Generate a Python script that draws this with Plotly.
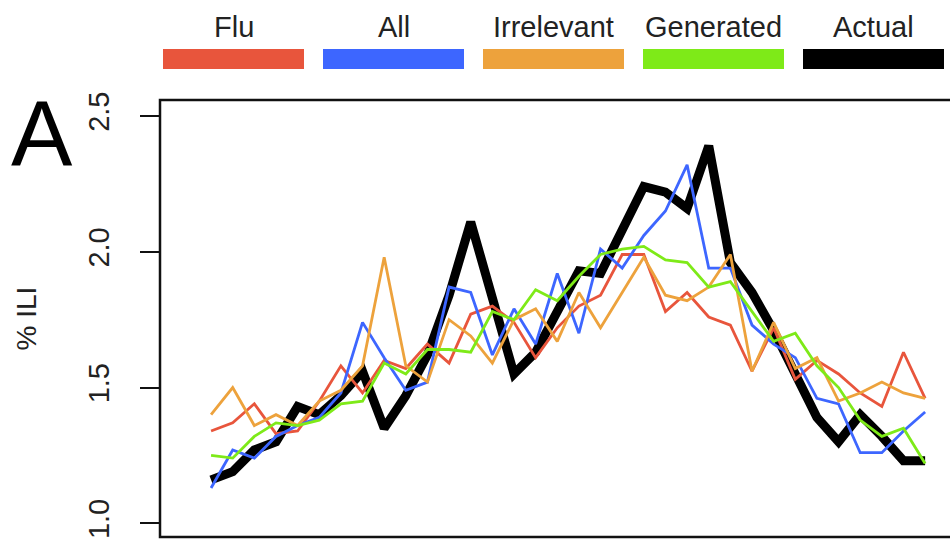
import plotly.graph_objects as go

# ---- data ----
weeks = list(range(1, 35))
actual = [1.16, 1.19, 1.27, 1.30, 1.43, 1.40, 1.47, 1.56, 1.35, 1.47,
          1.62, 1.84, 2.11, 1.82, 1.55, 1.63, 1.78, 1.93, 1.92, 2.08,
          2.24, 2.22, 2.16, 2.39, 1.96, 1.85, 1.71, 1.55, 1.39, 1.30,
          1.40, 1.32, 1.23, 1.23]
flu = [1.34, 1.37, 1.44, 1.33, 1.34, 1.45, 1.58, 1.48, 1.60, 1.57,
       1.66, 1.59, 1.77, 1.80, 1.74, 1.61, 1.72, 1.80, 1.84, 1.99,
       1.99, 1.78, 1.85, 1.76, 1.73, 1.56, 1.72, 1.53, 1.60, 1.55,
       1.48, 1.43, 1.63, 1.46]
all_terms = [1.13, 1.27, 1.24, 1.32, 1.36, 1.39, 1.48, 1.74, 1.61, 1.49,
             1.52, 1.87, 1.85, 1.62, 1.79, 1.66, 1.92, 1.70, 2.01, 1.94,
             2.06, 2.15, 2.32, 1.94, 1.94, 1.73, 1.66, 1.61, 1.46, 1.44,
             1.26, 1.26, 1.34, 1.41]
irrelevant = [1.40, 1.50, 1.36, 1.40, 1.36, 1.45, 1.49, 1.58, 1.98, 1.58,
              1.52, 1.75, 1.69, 1.59, 1.75, 1.79, 1.67, 1.85, 1.72, 1.85,
              1.98, 1.84, 1.82, 1.87, 1.99, 1.56, 1.74, 1.57, 1.61, 1.45,
              1.48, 1.52, 1.48, 1.46]
generated = [1.25, 1.24, 1.32, 1.37, 1.36, 1.38, 1.44, 1.45, 1.59, 1.55,
             1.64, 1.64, 1.63, 1.78, 1.75, 1.86, 1.82, 1.91, 1.99, 2.01,
             2.02, 1.97, 1.96, 1.87, 1.89, 1.78, 1.67, 1.70, 1.58, 1.50,
             1.38, 1.32, 1.35, 1.22]

series_names = ["Flu", "All", "Irrelevant", "Generated", "Actual"]
series_values = [flu, all_terms, irrelevant, generated, actual]
series_colors = ["#E8553C", "#3D66FF", "#EDA23C", "#7EEA18", "#000000"]
series_widths = [2.8, 2.8, 2.8, 2.8, 9]

y_ticks = [1.0, 1.5, 2.0, 2.5]
y_tick_labels = ["1.0", "1.5", "2.0", "2.5"]

FONT = "Liberation Sans, Arial, Helvetica, sans-serif"

fig = go.Figure()
# Actual drawn first, others on top
order = [4, 0, 1, 2, 3]
for k in order:
    fig.add_trace(go.Scatter(
        x=weeks, y=series_values[k], mode="lines", name=series_names[k],
        line=dict(color=series_colors[k], width=series_widths[k]),
        showlegend=False, hoverinfo="skip"))

W, H = 950, 542
ML, MR, MT, MB = 160, 0, 100, 5
pw = W - ML - MR
ph = H - MT - MB

def px_x(p):
    return (p - ML) / pw

def px_y(p):
    return (H - MB - p) / ph

fig.update_layout(
    width=W, height=H,
    margin=dict(l=ML, r=MR, t=MT, b=MB),
    paper_bgcolor="white", plot_bgcolor="white",
    font=dict(family=FONT, color="#222222"),
    showlegend=False,
    xaxis=dict(range=[weeks[0] - 2.36, weeks[0] + 34.15], showgrid=False,
               zeroline=False, showticklabels=False, ticks="", showline=False),
    yaxis=dict(range=[0.9495, 2.559], showgrid=False, zeroline=False,
               tickvals=y_ticks, ticktext=y_tick_labels, ticks="outside",
               ticklen=19, tickwidth=2, tickcolor="#111111",
               tickangle=-90, tickfont=dict(size=29, color="#222222"),
               ticklabelstandoff=19, showline=False),
)

# plot frame (right side runs off the page as in the reference)
fig.add_shape(type="rect", xref="paper", yref="paper", x0=0, x1=1.02, y0=0, y1=1,
              line=dict(color="#111111", width=2.5), layer="above")

# legend: coloured bars with labels above
for k, name in enumerate(series_names):
    x0 = 163 + 160 * k
    x1 = x0 + 141
    fig.add_shape(type="rect", xref="paper", yref="paper",
                  x0=px_x(x0), x1=px_x(x1), y0=px_y(69), y1=px_y(49),
                  line=dict(width=0), fillcolor=series_colors[k])
    fig.add_annotation(xref="paper", yref="paper", x=px_x((x0 + x1) / 2), y=px_y(27),
                       text=name, showarrow=False, xanchor="center", yanchor="middle",
                       font=dict(size=29, family=FONT, color="#222222"))

# y axis title and panel letter
fig.add_annotation(xref="paper", yref="paper", x=px_x(26), y=0.5, text="% ILI",
                   textangle=-90, showarrow=False, xanchor="center", yanchor="middle",
                   font=dict(size=28, family=FONT, color="#222222"))
fig.add_annotation(xref="paper", yref="paper", x=px_x(42), y=px_y(134), text="A",
                   showarrow=False, xanchor="center", yanchor="middle",
                   font=dict(size=92, family=FONT, color="#000000"))

fig.write_html("out.html")
